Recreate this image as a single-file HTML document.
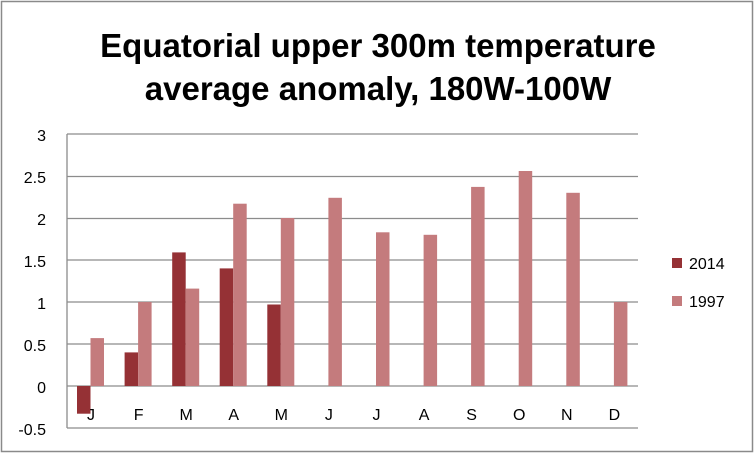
<!DOCTYPE html><html><head><style>body{margin:0;background:#fff}svg{display:block}</style></head><body>
<svg width="754" height="454" xmlns="http://www.w3.org/2000/svg" font-family="Liberation Sans, sans-serif">
<rect x="1.5" y="1.5" width="751" height="450" fill="#fff" stroke="#8a8a8a" stroke-width="1.5"/>
<text x="378" y="57" font-size="33" font-weight="bold" text-anchor="middle" fill="#000">Equatorial upper 300m temperature</text>
<text x="378" y="100" font-size="33" font-weight="bold" text-anchor="middle" fill="#000">average anomaly, 180W-100W</text>
<g stroke="#8c8c8c" stroke-width="1.3">
<line x1="67" y1="134" x2="638" y2="134"/><line x1="67" y1="176.5" x2="638" y2="176.5"/>
<line x1="67" y1="218.5" x2="638" y2="218.5"/><line x1="67" y1="260" x2="638" y2="260"/>
<line x1="67" y1="302" x2="638" y2="302"/><line x1="67" y1="344" x2="638" y2="344"/>
<line x1="67" y1="386" x2="638" y2="386"/><line x1="67" y1="428" x2="638" y2="428"/>
<line x1="67" y1="134" x2="67" y2="428"/>
</g>
<g font-size="16" text-anchor="end" fill="#000">
<text x="46" y="141">3</text><text x="46" y="183">2.5</text><text x="46" y="225">2</text>
<text x="46" y="267">1.5</text><text x="46" y="309">1</text><text x="46" y="351">0.5</text>
<text x="46" y="393">0</text><text x="46" y="435">-0.5</text>
</g>
<g fill="#953135">
<rect x="77" y="386" width="13.5" height="27.7"/>
<rect x="124.6" y="352.4" width="13.5" height="33.6"/>
<rect x="172.2" y="252.4" width="13.5" height="133.6"/>
<rect x="219.7" y="268.4" width="13.5" height="117.6"/>
<rect x="267.3" y="304.5" width="13.5" height="81.5"/>
</g>
<g fill="#c47b7d">
<rect x="90.5" y="338.1" width="13.5" height="47.9"/>
<rect x="138.1" y="302" width="13.5" height="84"/>
<rect x="185.7" y="288.6" width="13.5" height="97.4"/>
<rect x="233.2" y="203.7" width="13.5" height="182.3"/>
<rect x="280.8" y="218" width="13.5" height="168"/>
<rect x="328.4" y="197.8" width="13.5" height="188.2"/>
<rect x="376" y="232.3" width="13.5" height="153.7"/>
<rect x="423.6" y="234.8" width="13.5" height="151.2"/>
<rect x="471.1" y="186.9" width="13.5" height="199.1"/>
<rect x="518.7" y="171" width="13.5" height="215"/>
<rect x="566.3" y="192.8" width="13.5" height="193.2"/>
<rect x="613.9" y="302" width="13.5" height="84"/>
</g>
<g font-size="16" text-anchor="middle" fill="#000">
<text x="91" y="420">J</text><text x="138.6" y="420">F</text><text x="186.2" y="420">M</text>
<text x="233.7" y="420">A</text><text x="281.3" y="420">M</text><text x="328.9" y="420">J</text>
<text x="376.5" y="420">J</text><text x="424.1" y="420">A</text><text x="471.6" y="420">S</text>
<text x="519.2" y="420">O</text><text x="566.8" y="420">N</text><text x="614.4" y="420">D</text>
</g>
<rect x="672" y="258" width="10" height="10" fill="#953135"/>
<text x="689" y="269" font-size="16">2014</text>
<rect x="672" y="296" width="10" height="10" fill="#c47b7d"/>
<text x="689" y="307" font-size="16">1997</text>
</svg></body></html>
